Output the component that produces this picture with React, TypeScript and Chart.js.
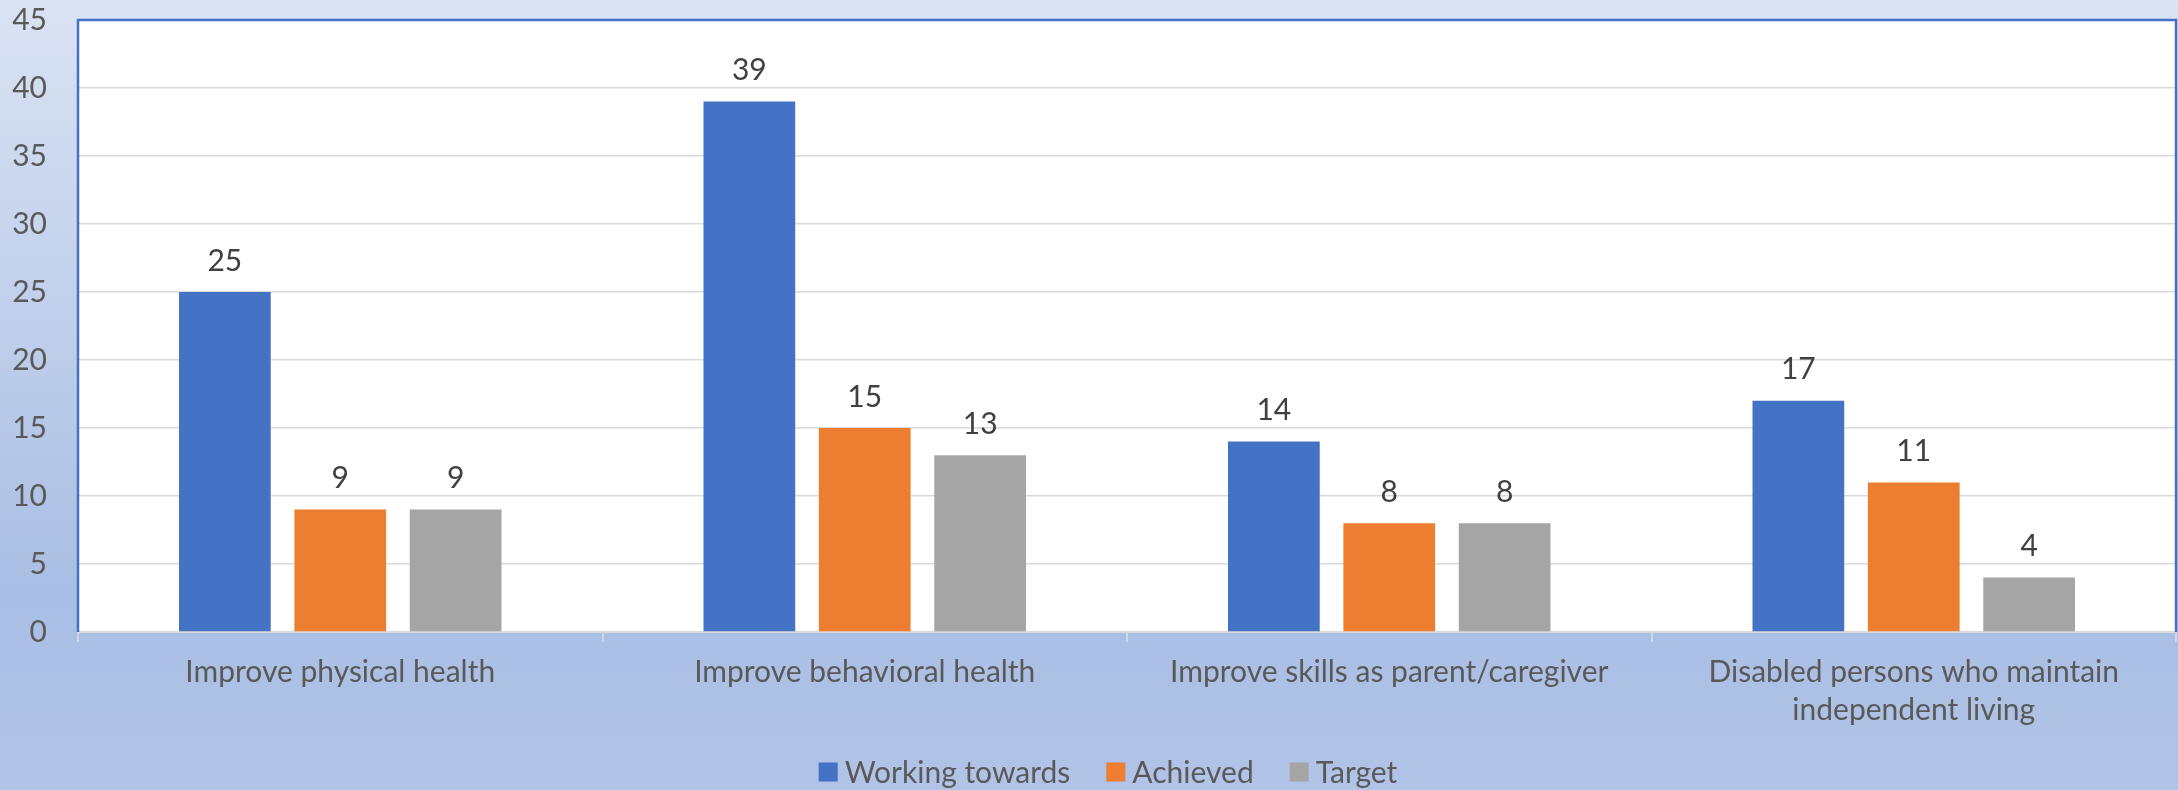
import React, { useEffect, useRef } from "react";
import { Chart, registerables } from "chart.js";

Chart.register(...registerables);

const categories: (string | string[])[] = [
  "Improve physical health",
  "Improve behavioral health",
  "Improve skills as parent/caregiver",
  ["Disabled persons who maintain", "independent living"],
];
const seriesNames = ["Working towards", "Achieved", "Target"];
const workingTowards = [25, 39, 14, 17];
const achieved = [9, 15, 8, 11];
const target = [9, 13, 8, 4];
const seriesColors = ["#4472C4", "#ED7D31", "#A5A5A5"];

const FONT = "Lato, 'Open Sans', sans-serif";
const FS = 30;
const W = 2178;
const H = 790;

const bgPlugin = {
  id: "bgPlugin",
  beforeDraw(chart: any) {
    const { ctx, chartArea } = chart;
    ctx.save();
    const g = ctx.createLinearGradient(0, 0, 0, chart.height);
    g.addColorStop(0, "#DAE3F3");
    g.addColorStop(0.75, "#A9BEE4");
    g.addColorStop(1, "#B1C4E7");
    ctx.fillStyle = g;
    ctx.fillRect(0, 0, chart.width, chart.height);
    ctx.fillStyle = "#FFFFFF";
    ctx.fillRect(chartArea.left, chartArea.top, chartArea.right - chartArea.left, chartArea.bottom - chartArea.top);
    ctx.restore();
  },
  afterDraw(chart: any) {
    const { ctx, chartArea } = chart;
    ctx.save();
    ctx.strokeStyle = "#4472C4";
    ctx.lineWidth = 2.5;
    ctx.beginPath();
    ctx.moveTo(chartArea.left, chartArea.bottom);
    ctx.lineTo(chartArea.left, chartArea.top);
    ctx.lineTo(chartArea.right, chartArea.top);
    ctx.lineTo(chartArea.right, chartArea.bottom);
    ctx.stroke();

    ctx.font = `${FS}px ${FONT}`;
    ctx.fillStyle = "#404040";
    ctx.textAlign = "center";
    ctx.textBaseline = "middle";
    chart.data.datasets.forEach((ds: any, i: number) => {
      const meta = chart.getDatasetMeta(i);
      meta.data.forEach((el: any, j: number) => {
        ctx.fillText(String(ds.data[j]), el.x, el.y - 31);
      });
    });

    const box = 19;
    const gapBoxText = 7;
    const gapItems = 36;
    const items = chart.data.datasets.map((ds: any) => ({
      label: ds.label,
      color: ds.backgroundColor,
      w: ctx.measureText(ds.label).width,
    }));
    let total = 0;
    items.forEach((it: any, i: number) => {
      total += box + gapBoxText + it.w + (i < items.length - 1 ? gapItems : 0);
    });
    const cy = 772;
    let x = chart.width / 2 + 19 - total / 2;
    ctx.textAlign = "left";
    items.forEach((it: any) => {
      ctx.fillStyle = it.color;
      ctx.fillRect(x, cy - box / 2, box, box);
      x += box + gapBoxText;
      ctx.fillStyle = "#595959";
      ctx.fillText(it.label, x, cy + 1);
      x += it.w + gapItems;
    });
    ctx.restore();
  },
};

export default function App() {
  const ref = useRef<HTMLCanvasElement>(null);
  useEffect(() => {
    document.body.style.margin = "0";
    let chart: Chart | null = null;
    let cancelled = false;
    const make = () => {
      if (cancelled || !ref.current) return;
      chart = new Chart(ref.current, {
        type: "bar",
        data: {
          labels: categories,
          datasets: [
            { label: seriesNames[0], data: workingTowards, backgroundColor: seriesColors[0] },
            { label: seriesNames[1], data: achieved, backgroundColor: seriesColors[1] },
            { label: seriesNames[2], data: target, backgroundColor: seriesColors[2] },
          ],
        },
        options: {
          animation: false,
          responsive: false,
          maintainAspectRatio: false,
          layout: { padding: { top: 20, right: 2, left: 0, bottom: 0 } },
          datasets: { bar: { categoryPercentage: 0.66, barPercentage: 0.795 } },
          plugins: { legend: { display: false }, tooltip: { enabled: false } },
          scales: {
            x: {
              afterFit: (s: any) => {
                s.height = 158;
              },
              grid: {
                offset: true,
                drawOnChartArea: false,
                drawTicks: true,
                tickLength: 10,
                color: "#D0D7E5",
                lineWidth: 2,
              },
              border: { display: true, color: "#D9D9D9", width: 2 },
              ticks: {
                color: "#595959",
                font: { family: FONT, size: FS, lineHeight: 1.25 },
                padding: 12,
                maxRotation: 0,
                autoSkip: false,
              },
            },
            y: {
              min: 0,
              max: 45,
              afterFit: (s: any) => {
                s.width = 78;
              },
              grid: {
                color: "#D9D9D9",
                lineWidth: 1.5,
                drawTicks: true,
                tickLength: 31,
                tickColor: "rgba(0,0,0,0)",
              },
              border: { display: false },
              ticks: {
                stepSize: 5,
                color: "#595959",
                font: { family: FONT, size: FS },
                padding: 0,
              },
            },
          },
        },
        plugins: [bgPlugin],
      });
    };
    (document as any).fonts.load(`${FS}px Lato`).then(make, make);
    return () => {
      cancelled = true;
      if (chart) chart.destroy();
    };
  }, []);
  return (
    <div style={{ width: W, height: H }}>
      <canvas ref={ref} width={W} height={H} style={{ display: "block" }} />
    </div>
  );
}
